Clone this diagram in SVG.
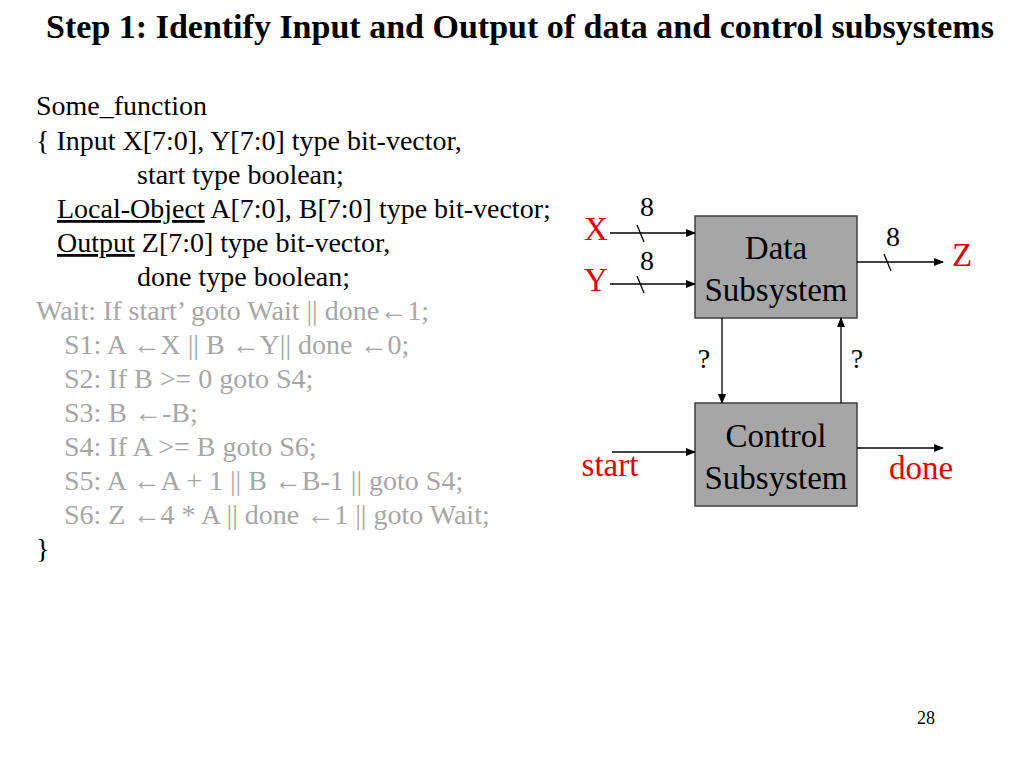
<svg xmlns="http://www.w3.org/2000/svg" width="1024" height="768" viewBox="0 0 1024 768">
<style>
text{font-family:"Liberation Serif","Times New Roman",serif;font-size:28px;fill:#000}
.g{fill:#a6a6a6}
.r{fill:#e00000;font-size:33px}
.box{fill:#a6a6a6;stroke:#404040;stroke-width:1.5}
.ln{stroke:#000;stroke-width:1.3;fill:none}
.bl{font-size:33px}
.ar{font-weight:bold}
</style>
<defs><marker id="a" markerWidth="10" markerHeight="8" refX="9" refY="4" orient="auto" markerUnits="userSpaceOnUse"><path d="M0,0L10,4L0,8z" fill="#000"/></marker></defs>
<rect width="1024" height="768" fill="#fff"/>
<text x="520" y="38" text-anchor="middle" style="font-size:34px;font-weight:bold">Step 1: Identify Input and Output of data and control subsystems</text>
<text x="36" y="115">Some_function</text>
<text x="36" y="150">{ Input X[7:0], Y[7:0] type bit-vector,</text>
<text x="137" y="184">start type boolean;</text>
<text x="57" y="218"><tspan text-decoration="underline">Local-Object</tspan> A[7:0], B[7:0] type bit-vector;</text>
<text x="57" y="252"><tspan text-decoration="underline">Output</tspan> Z[7:0] type bit-vector,</text>
<text x="137" y="286">done type boolean;</text>
<text class="g" x="36" y="320">Wait: If start’ goto Wait || done<tspan class="ar">←</tspan>1;</text>
<text class="g" x="64" y="354">S1: A <tspan class="ar">←</tspan>X || B <tspan class="ar">←</tspan>Y|| done <tspan class="ar">←</tspan>0;</text>
<text class="g" x="64" y="388">S2: If B &gt;= 0 goto S4;</text>
<text class="g" x="64" y="422">S3: B <tspan class="ar">←</tspan>-B;</text>
<text class="g" x="64" y="456">S4: If A &gt;= B goto S6;</text>
<text class="g" x="64" y="490">S5: A <tspan class="ar">←</tspan>A + 1 || B <tspan class="ar">←</tspan>B-1 || goto S4;</text>
<text class="g" x="64" y="524">S6: Z <tspan class="ar">←</tspan>4 * A || done <tspan class="ar">←</tspan>1 || goto Wait;</text>
<text x="36" y="558">}</text>
<g id="data"><rect class="box" x="695" y="216" width="162" height="102"/><text class="bl" x="776" y="259" text-anchor="middle">Data</text><text class="bl" x="776" y="301" text-anchor="middle">Subsystem</text></g>
<g id="control"><rect class="box" x="695" y="403" width="162" height="103"/><text class="bl" x="776" y="447" text-anchor="middle">Control</text><text class="bl" x="776" y="489" text-anchor="middle">Subsystem</text></g>
<g id="connectors">
<line class="ln" x1="610" y1="233" x2="695" y2="233" marker-end="url(#a)"/>
<line class="ln" x1="610" y1="284" x2="695" y2="284" marker-end="url(#a)"/>
<line class="ln" x1="857" y1="262" x2="943" y2="262" marker-end="url(#a)"/>
<line class="ln" x1="722" y1="318" x2="722" y2="403" marker-end="url(#a)"/>
<line class="ln" x1="841" y1="403" x2="841" y2="318" marker-end="url(#a)"/>
<line class="ln" x1="612" y1="452" x2="695" y2="452" marker-end="url(#a)"/>
<line class="ln" x1="857" y1="448" x2="943" y2="448" marker-end="url(#a)"/>
<line class="ln" x1="637" y1="225" x2="644" y2="242"/>
<line class="ln" x1="637" y1="276" x2="644" y2="293"/>
<line class="ln" x1="884" y1="254" x2="891" y2="271"/>
</g>
<text x="647" y="216" text-anchor="middle">8</text>
<text x="647" y="270" text-anchor="middle">8</text>
<text x="893" y="246" text-anchor="middle">8</text>
<text x="704" y="368" text-anchor="middle">?</text>
<text x="857" y="368" text-anchor="middle">?</text>
<text class="r" x="596" y="240" text-anchor="middle">X</text>
<text class="r" x="596" y="291" text-anchor="middle">Y</text>
<text class="r" x="962" y="266" text-anchor="middle">Z</text>
<text class="r" x="610" y="476" text-anchor="middle">start</text>
<text class="r" x="921" y="479" text-anchor="middle">done</text>
<text x="926" y="724" text-anchor="middle" style="font-size:18px">28</text>
</svg>
